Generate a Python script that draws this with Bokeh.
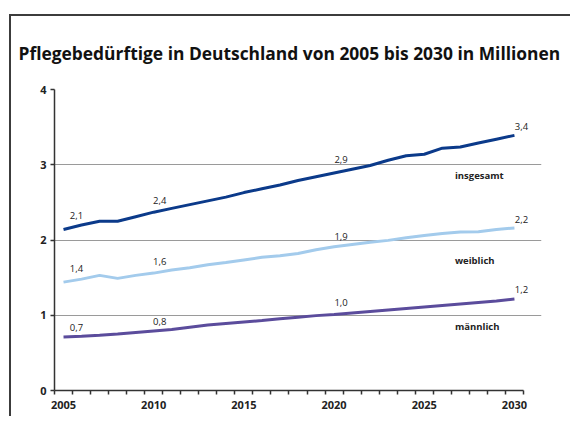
from bokeh.plotting import figure
from bokeh.models import Range1d, FixedTicker, Label, InlineStyleSheet, GlobalInlineStyleSheet
from bokeh.embed import file_html
from bokeh.resources import INLINE

title = "Pflegebedürftige in Deutschland von 2005 bis 2030 in Millionen"
years = list(range(2005, 2031))
insgesamt = [2.14, 2.20, 2.25, 2.25, 2.31, 2.37, 2.42, 2.47, 2.52, 2.57, 2.63, 2.68, 2.73,
             2.79, 2.84, 2.89, 2.94, 2.99, 3.06, 3.12, 3.14, 3.22, 3.235, 3.29, 3.34, 3.39]
weiblich = [1.44, 1.48, 1.53, 1.49, 1.53, 1.56, 1.60, 1.63, 1.67, 1.70, 1.735, 1.77, 1.79,
            1.82, 1.87, 1.91, 1.94, 1.97, 1.995, 2.03, 2.06, 2.085, 2.107, 2.11, 2.14, 2.16]
maennlich = [0.71, 0.72, 0.733, 0.75, 0.77, 0.79, 0.81, 0.84, 0.87, 0.89, 0.91, 0.93, 0.955,
             0.975, 0.995, 1.01, 1.03, 1.05, 1.07, 1.09, 1.11, 1.13, 1.15, 1.17, 1.19, 1.215]
series_names = ["insgesamt", "weiblich", "männlich"]
series_colors = ["#0b3a8a", "#a3cbec", "#5b4c9c"]
label_years = [2005, 2010, 2020, 2030]
insgesamt_labels = ["2,1", "2,4", "2,9", "3,4"]
weiblich_labels = ["1,4", "1,6", "1,9", "2,2"]
maennlich_labels = ["0,7", "0,8", "1,0", "1,2"]
x_tick_years = [2005, 2010, 2015, 2020, 2025, 2030]
y_ticks = [0, 1, 2, 3, 4]

FONT = "Open Sans"
DARK = "#333333"
X_BOUNDS = (2004.5, 2030.5)

p = figure(width=570, height=400, x_range=Range1d(2004.5, 2031.5), y_range=Range1d(0, 4),
           output_backend="svg", toolbar_location=None,
           min_border_left=43, min_border_right=42, min_border_top=73, min_border_bottom=28)
p.stylesheets = [
    InlineStyleSheet(css=":host { box-sizing: content-box; "
                         "border-top: 2px solid #3c3c3c; border-left: 2px solid #3c3c3c; "
                         "border-right: none; border-bottom: none; "
                         "margin: 14px 0 0 9px; }"),
    GlobalInlineStyleSheet(css="html, body { overflow: hidden; }"),
]
p.outline_line_color = None
p.background_fill_color = "white"
p.border_fill_color = "white"

p.title.text = title
p.title.align = "left"
p.title.vertical_align = "top"
p.title.text_font = FONT
p.title.text_font_style = "bold"
p.title.text_font_size = "17.4px"
p.title.text_color = "#111111"
p.title.offset = -36
p.title.standoff = 46

# axes
p.xaxis.bounds = X_BOUNDS
p.xaxis.ticker = FixedTicker(ticks=x_tick_years, minor_ticks=[y + 0.5 for y in range(2004, 2031)])
p.xaxis.major_tick_line_color = None
p.xaxis.major_tick_out = 4
p.xaxis.minor_tick_out = 4
p.xaxis.minor_tick_in = 0
p.xaxis.minor_tick_line_color = DARK
p.xaxis.minor_tick_line_width = 1.5
p.xaxis.major_label_standoff = 6
p.yaxis.ticker = FixedTicker(ticks=y_ticks)
p.yaxis.major_tick_out = 4
p.yaxis.major_tick_in = 0
p.yaxis.major_tick_line_color = DARK
p.yaxis.major_tick_line_width = 1.5
p.yaxis.minor_tick_line_color = None
p.yaxis.major_label_standoff = 4
for ax in (p.xaxis, p.yaxis):
    ax.axis_line_color = DARK
    ax.axis_line_width = 1.5
    ax.major_label_text_font = FONT
    ax.major_label_text_font_style = "bold"
    ax.major_label_text_font_size = "11px"
    ax.major_label_text_color = "#222222"

p.xgrid.grid_line_color = None
p.ygrid.ticker = FixedTicker(ticks=y_ticks)
p.ygrid.bounds = X_BOUNDS
p.ygrid.grid_line_color = "#9a9a9a"
p.ygrid.grid_line_width = 1

all_series = [insgesamt, weiblich, maennlich]
all_labels = [insgesamt_labels, weiblich_labels, maennlich_labels]
for vals, col in zip(all_series, series_colors):
    p.line(years, vals, line_width=3, line_color=col)

# value labels
x_offsets = [13, 6, 7, 7]
y_offsets = [[14, 12, 14, 9], [14, 12, 10, 8], [10, 10, 12, 10]]
for vals, labs, yoffs in zip(all_series, all_labels, y_offsets):
    for yr, lab, xo, yo in zip(label_years, labs, x_offsets, yoffs):
        p.add_layout(Label(x=yr, y=vals[years.index(yr)], text=lab, x_offset=xo, y_offset=yo,
                           text_align="center", text_baseline="middle", text_font=FONT,
                           text_font_size="9.5px", text_color="#222222"))

# series names
name_pos = [(2026.7, 2.855), (2026.7, 1.725), (2026.7, 0.854)]
for name, (nx, ny) in zip(series_names, name_pos):
    p.add_layout(Label(x=nx, y=ny, text=name, text_baseline="middle", text_align="left",
                       text_font=FONT, text_font_style="bold", text_font_size="9.5px",
                       text_color="#222222"))

open("out.html", "w").write(file_html(p, INLINE))
